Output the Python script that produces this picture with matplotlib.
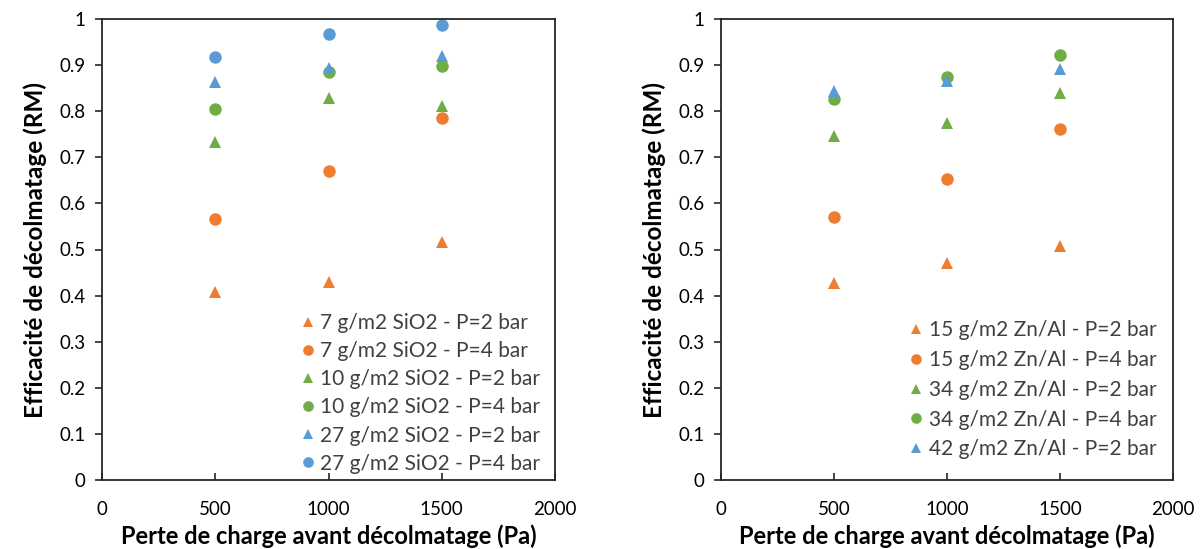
import matplotlib.pyplot as plt

plt.rcParams['font.family'] = ['Lato', 'DejaVu Sans']

# pressure drop before unclogging (Pa)
x_vals = [500, 1000, 1500]

# left chart: SiO2
sio2_labels = ['7 g/m2 SiO2 - P=2 bar', '7 g/m2 SiO2 - P=4 bar',
               '10 g/m2 SiO2 - P=2 bar', '10 g/m2 SiO2 - P=4 bar',
               '27 g/m2 SiO2 - P=2 bar', '27 g/m2 SiO2 - P=4 bar']
sio2_7_p2 = [0.408, 0.430, 0.516]
sio2_7_p4 = [0.566, 0.671, 0.786]
sio2_10_p2 = [0.733, 0.828, 0.812]
sio2_10_p4 = [0.805, 0.884, 0.897]
sio2_27_p2 = [0.863, 0.894, 0.920]
sio2_27_p4 = [0.918, 0.967, 0.988]

# right chart: Zn/Al
znal_labels = ['15 g/m2 Zn/Al - P=2 bar', '15 g/m2 Zn/Al - P=4 bar',
               '34 g/m2 Zn/Al - P=2 bar', '34 g/m2 Zn/Al - P=4 bar',
               '42 g/m2 Zn/Al - P=2 bar']
znal_15_p2 = [0.428, 0.470, 0.508]
znal_15_p4 = [0.570, 0.652, 0.761]
znal_34_p2 = [0.746, 0.774, 0.840]
znal_34_p4 = [0.826, 0.875, 0.922]
znal_42_p2 = [0.844, 0.866, 0.891]

orange = '#ED7D31'
green = '#70AD47'
blue = '#5B9BD5'

y_ticks = [0, 0.1, 0.2, 0.3, 0.4, 0.5, 0.6, 0.7, 0.8, 0.9, 1]
y_tick_labels = ['0', '0.1', '0.2', '0.3', '0.4', '0.5', '0.6', '0.7', '0.8', '0.9', '1']
x_ticks = [0, 500, 1000, 1500, 2000]

fig = plt.figure(figsize=(12.02, 5.49), dpi=100)
W, H = 1202, 549
ax1 = fig.add_axes([102 / W, 69 / H, 453 / W, 461 / H])
ax2 = fig.add_axes([721 / W, 69 / H, 452 / W, 461 / H])


def style_axis(ax):
  ax.set_xlim(0, 2000)
  ax.set_ylim(0, 1)
  ax.set_xticks(x_ticks)
  ax.set_yticks(y_ticks)
  ax.set_yticklabels(y_tick_labels)
  for s in ax.spines.values():
    s.set_color('#262626')
    s.set_linewidth(1.3)
  ax.tick_params(axis='x', direction='in', length=5, width=1.2, pad=15,
                 labelsize=13.5, colors='#262626', labelcolor='#000000')
  ax.tick_params(axis='y', direction='out', length=5, width=1.2, pad=7,
                 labelsize=13.5, colors='#262626', labelcolor='#000000')
  ax.set_xlabel('Perte de charge avant décolmatage (Pa)', fontsize=17,
                fontweight='bold', labelpad=5)
  ax.set_ylabel('Efficacité de décolmatage (RM)', fontsize=17.5,
                fontweight='bold', labelpad=9)


ms = 9
series1 = [(sio2_7_p2, '^', orange), (sio2_7_p4, 'o', orange),
           (sio2_10_p2, '^', green), (sio2_10_p4, 'o', green),
           (sio2_27_p2, '^', blue), (sio2_27_p4, 'o', blue)]
for (vals, m, c), lab in zip(series1, sio2_labels):
  ax1.plot(x_vals, vals, linestyle='none', marker=m, color=c,
           markersize=ms, markeredgewidth=0, label=lab)

series2 = [(znal_15_p2, '^', orange), (znal_15_p4, 'o', orange),
           (znal_34_p2, '^', green), (znal_34_p4, 'o', green),
           (znal_42_p2, '^', blue)]
for (vals, m, c), lab in zip(series2, znal_labels):
  ax2.plot(x_vals, vals, linestyle='none', marker=m, color=c,
           markersize=ms, markeredgewidth=0, label=lab)

style_axis(ax1)
style_axis(ax2)

leg1 = ax1.legend(loc='lower right', bbox_to_anchor=(1.0, -0.018), frameon=False,
                  fontsize=15, markerscale=0.85, handlelength=0.6,
                  handletextpad=0.3, labelspacing=0.39, borderaxespad=0.3)
leg2 = ax2.legend(loc='lower right', bbox_to_anchor=(0.995, 0.013), frameon=False,
                  fontsize=15, markerscale=0.85, handlelength=0.6,
                  handletextpad=0.3, labelspacing=0.47, borderaxespad=0.3)
for leg in (leg1, leg2):
  for t in leg.get_texts():
    t.set_color('#404040')

plt.savefig('out.png', dpi=100)
